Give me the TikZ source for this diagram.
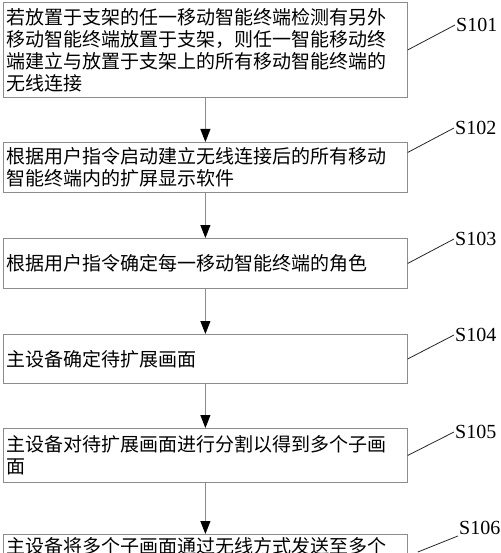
\documentclass[tikz,border=0pt]{standalone}
\usepackage{fontspec}
\setmainfont{Liberation Serif}
\newfontfamily\cjk{Noto Sans CJK SC}
\usepackage{tikz}
\usetikzlibrary{arrows.meta}
\definecolor{boxgray}{RGB}{140,140,140}
\tikzset{
  stepbox/.style={draw=boxgray, line width=0.8pt, anchor=north west,
    minimum width=404pt, text width=397pt, inner xsep=3pt, inner ysep=3pt,
    align=left, font={\cjk\fontsize{19}{22}\selectfont}},
  steplabel/.style={font={\fontsize{20}{22}\selectfont}, inner sep=1pt},
  flow/.style={draw=boxgray, line width=0.8pt, -{Triangle[length=13pt,width=10pt,color=black]}},
  lead/.style={draw=black!85, line width=0.8pt}
}
\begin{document}
\begin{tikzpicture}[x=1pt, y=-1pt]
        \clip (0,0) rectangle (500,553);
        \path
        (3,2)   coordinate (p1)
        (3,142) coordinate (p2)
        (3,238) coordinate (p3)
        (3,334) coordinate (p4)
        (3,428) coordinate (p5)
        (3,534) coordinate (p6)
        ;

        \node[stepbox, minimum height=95pt] (s101) at (p1) {若放置于支架的任一移动智能终端检测有另外\\移动智能终端放置于支架，则任一智能移动终\\端建立与放置于支架上的所有移动智能终端的\\无线连接};
        \node[stepbox, minimum height=50pt] (s102) at (p2) {根据用户指令启动建立无线连接后的所有移动\\智能终端内的扩屏显示软件};
        \node[stepbox, minimum height=50pt] (s103) at (p3) {根据用户指令确定每一移动智能终端的角色};
        \node[stepbox, minimum height=49pt] (s104) at (p4) {主设备确定待扩展画面};
        \node[stepbox, minimum height=54pt] (s105) at (p5) {主设备对待扩展画面进行分割以得到多个子画\\面};
        \node[stepbox] (s106) at (p6) {主设备将多个子画面通过无线方式发送至多个};

        \draw[flow] (s101) -- (s102);
        \draw[flow] (s102) -- (s103);
        \draw[flow] (s103) -- (s104);
        \draw[flow] (s104) -- (s105);
        \draw[flow] (s105) -- (s106);

        \node[steplabel, anchor=west] (l101) at (455,25)  {S101};
        \node[steplabel, anchor=west] (l102) at (454,128) {S102};
        \node[steplabel, anchor=west] (l103) at (454,239) {S103};
        \node[steplabel, anchor=west] (l104) at (454,335) {S104};
        \node[steplabel, anchor=west] (l105) at (454,432) {S105};
        \node[steplabel, anchor=west] (l106) at (458,528) {S106};

        \draw[lead] (s101.east) -- (l101.west);
        \draw[lead] ([yshift=15pt]s102.east) -- (l102.west);
        \draw[lead] (s103.east) -- (l103.west);
        \draw[lead] (s104.east) -- (l104.west);
        \draw[lead] (s105.east) -- (l105.west);
        \draw[lead] ([xshift=10pt,yshift=-18pt]s106.north east) -- (l106.south west); % free end off the box
\end{tikzpicture}
\end{document}
